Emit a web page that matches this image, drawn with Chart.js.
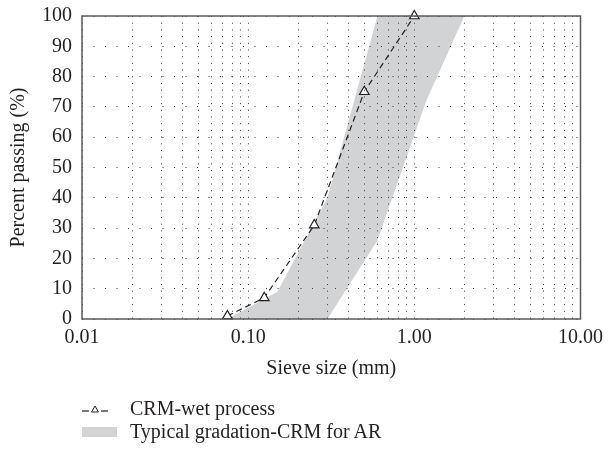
<!DOCTYPE html>
<html>
<head>
<meta charset="utf-8">
<script src="https://cdn.jsdelivr.net/npm/chart.js@4.4.1/dist/chart.umd.min.js"></script>
<style>
  body { margin: 0; background: #fff; }
  #wrap { position: relative; width: 610px; height: 453px; }
  .legend { position: absolute; left: 82px; top: 397px; font: 20px "Liberation Serif", serif; color: #231f20; }
  .legend div { display: flex; align-items: center; height: 23px; white-space: nowrap; }
  .legend svg { margin-right: 22px; }
  .swatch { display: inline-block; width: 35px; height: 10px; background: #d1d3d4; margin-right: 13px; }
</style>
</head>
<body>
<div id="wrap">
  <canvas id="chart" width="610" height="453"></canvas>
  <div class="legend">
    <div>
      <svg width="26" height="10">
        <line x1="0" y1="7" x2="7" y2="7" stroke="#231f20" stroke-width="1.2"/>
        <polygon points="13,2 16.5,8 9.5,8" fill="none" stroke="#231f20" stroke-width="1"/>
        <line x1="19" y1="7" x2="26" y2="7" stroke="#231f20" stroke-width="1.2"/>
      </svg>CRM-wet process
    </div>
    <div><span class="swatch"></span>Typical gradation-CRM for AR</div>
  </div>
</div>
<script>
// sieve sizes (mm) and percent passing
const sieveSize = [0.075, 0.125, 0.25, 0.5, 1.0];
const crmWetPassing = [1, 7, 31, 75, 100];

// typical gradation band: fine limit (left edge) and coarse limit (right edge)
const fineLimitSize = [0.075, 0.15, 0.3, 0.6];
const fineLimitPassing = [0, 9, 40, 100];
const coarseLimitSize = [2.0, 1.18, 0.6, 0.3];
const coarseLimitPassing = [100, 72, 26, 0];

// log axis ticks; labels only on decades
const xTickValues = [0.01, 0.02, 0.03, 0.04, 0.05, 0.06, 0.07, 0.08, 0.09,
                     0.1, 0.2, 0.3, 0.4, 0.5, 0.6, 0.7, 0.8, 0.9,
                     1, 2, 3, 4, 5, 6, 7, 8, 9, 10];
const xLabelValues = [0.01, 0.1, 1, 10];
const xLabelText = ['0.01', '0.10', '1.00', '10.00'];

const textColor = '#231f20';
const bandColor = '#d1d3d4';

Chart.defaults.font.family = '"Liberation Serif", "Times New Roman", serif';
Chart.defaults.font.size = 20;
Chart.defaults.color = textColor;

const crmPoints = sieveSize.map((s, i) => ({ x: s, y: crmWetPassing[i] }));
const bandPoints = fineLimitSize.map((s, i) => ({ x: s, y: fineLimitPassing[i] }))
    .concat(coarseLimitSize.map((s, i) => ({ x: s, y: coarseLimitPassing[i] })));

// box around the plot area
const frame = {
    id: 'frame',
    afterDraw(chart) {
        const { ctx, chartArea: a } = chart;
        ctx.save();
        ctx.strokeStyle = '#58595b';
        ctx.lineWidth = 1.5;
        ctx.strokeRect(a.left, a.top, a.right - a.left, a.bottom - a.top);
        ctx.restore();
    }
};

new Chart(document.getElementById('chart'), {
    type: 'line',
    data: {
        datasets: [{
            label: 'CRM-wet process',
            data: crmPoints,
            borderColor: textColor,
            borderWidth: 1.2,
            borderDash: [6, 4],
            pointStyle: 'triangle',
            pointRadius: 5.5,
            pointBorderWidth: 1.2,
            pointBorderColor: textColor,
            pointBackgroundColor: '#fff',
            fill: false,
            tension: 0,
            clip: 10
        }, {
            label: 'Typical gradation-CRM for AR',
            data: bandPoints,
            borderColor: bandColor,
            borderWidth: 0,
            backgroundColor: bandColor,
            pointRadius: 0,
            fill: 'shape',
            tension: 0
        }]
    },
    options: {
        responsive: false,
        animation: false,
        layout: { padding: { left: 0, top: 16, right: 25, bottom: 72 } },
        plugins: { legend: { display: false }, tooltip: { enabled: false } },
        scales: {
            x: {
                type: 'logarithmic',
                min: 0.01,
                max: 10,
                afterBuildTicks: (scale) => { scale.ticks = xTickValues.map(v => ({ value: v })); },
                afterFit: (scale) => { scale.height = 62; },
                ticks: {
                    autoSkip: false,
                    maxRotation: 0,
                    padding: 7,
                    callback: (value) => {
                        const k = xLabelValues.findIndex(d => Math.abs(d - value) < d * 1e-6);
                        return k >= 0 ? xLabelText[k] : '';
                    }
                },
                grid: { color: '#3a3a3a', lineWidth: 1, drawTicks: false, z: 1 },
                border: { display: false, dash: [1, 5.7] },
                title: { display: true, text: 'Sieve size (mm)', padding: 0 }
            },
            y: {
                min: 0,
                max: 100,
                afterFit: (scale) => {
                    scale.width = 82;
                    scale.paddingTop = 0;
                    scale.paddingBottom = 0;
                },
                ticks: { stepSize: 10, padding: 10 },
                grid: { color: '#3a3a3a', lineWidth: 1, drawTicks: false, z: 1 },
                border: { display: false, dash: [1, 10.5] },
                title: { display: true, text: 'Percent passing (%)', padding: { top: 7, bottom: 0 } }
            }
        }
    },
    plugins: [frame]
});
</script>
</body>
</html>
